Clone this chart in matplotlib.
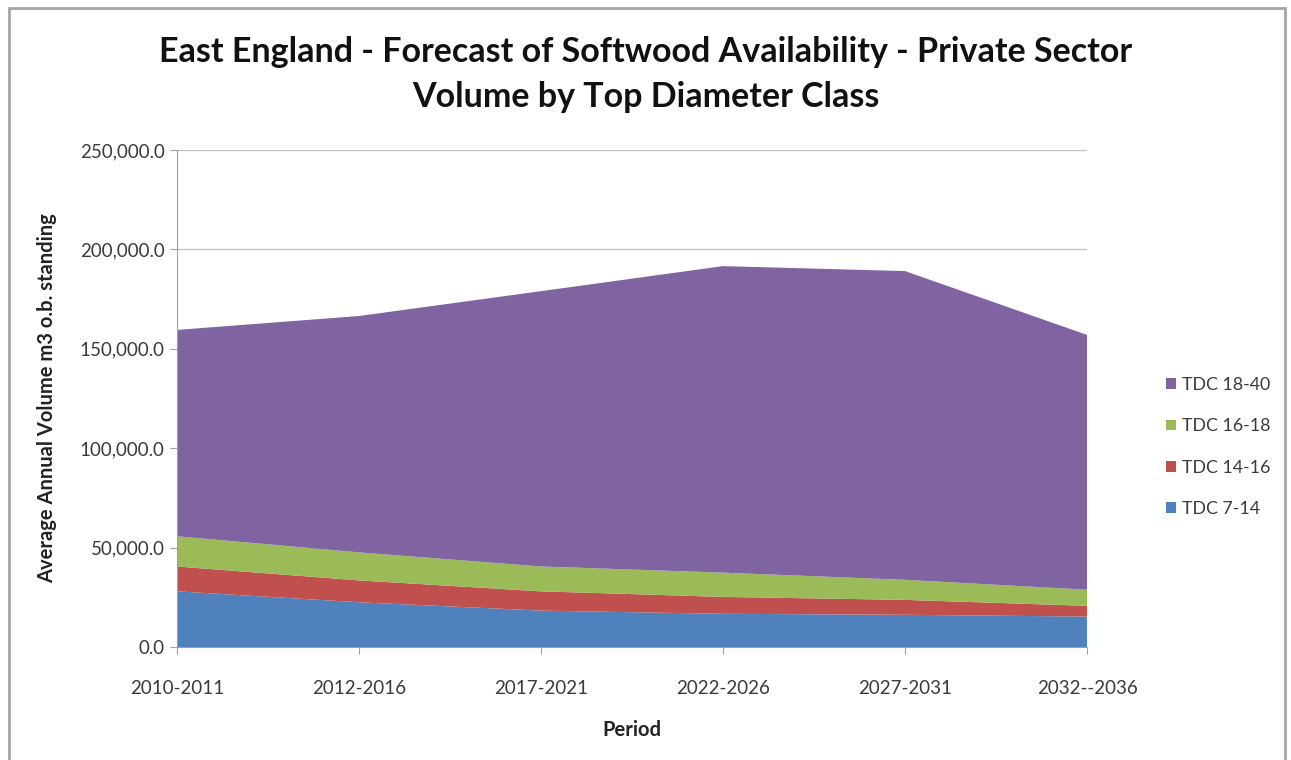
import matplotlib.pyplot as plt
from matplotlib.ticker import FuncFormatter, MultipleLocator
from matplotlib.patches import Rectangle

# average annual volume by period, m3 o.b. standing
periods = ['2010-2011', '2012-2016', '2017-2021', '2022-2026', '2027-2031', '2032--2036']
tdc_7_14 = [28000, 22500, 18300, 16700, 16200, 15300]
tdc_14_16 = [12500, 11000, 9700, 8500, 7500, 5400]
tdc_16_18 = [15200, 14100, 12500, 12200, 10100, 8100]
tdc_18_40 = [103800, 118900, 138500, 154200, 155300, 128200]

labels = ['TDC 7-14', 'TDC 14-16', 'TDC 16-18', 'TDC 18-40']
colors = ['#4F81BD', '#C0504D', '#9BBB59', '#8064A2']

plt.rcParams['font.family'] = ['Lato', 'DejaVu Sans']

fig = plt.figure(figsize=(12.91, 7.6), dpi=100)
# outer chart frame
fig.patches.append(Rectangle((0.007, -0.05), 0.988, 1.04, transform=fig.transFigure,
                             fill=False, edgecolor='#A6A6A6', linewidth=2))

ax = fig.add_axes([0.1371, 0.1487, 0.7049, 0.6539])
x = list(range(len(periods)))
ax.stackplot(x, tdc_7_14, tdc_14_16, tdc_16_18, tdc_18_40,
             labels=labels, colors=colors, linewidth=0)

ax.set_xlim(0, len(periods) - 1)
ax.set_ylim(0, 250000)
ax.yaxis.set_major_locator(MultipleLocator(50000))
ax.yaxis.set_major_formatter(FuncFormatter(lambda v, p: f'{v:,.1f}'))
ax.set_xticks(x)
ax.set_xticklabels(periods)
ax.grid(axis='y', color='#BFBFBF', linewidth=0.9)
ax.set_axisbelow(True)

for s in ['top', 'right']:
    ax.spines[s].set_visible(False)
for s in ['left', 'bottom']:
    ax.spines[s].set_color('#A0A0A0')
ax.tick_params(axis='both', colors='#A0A0A0', labelcolor='#3A3A3A', labelsize=13.5,
               length=5)
ax.tick_params(axis='x', pad=19)
ax.tick_params(axis='y', pad=4)

ax.set_xlabel('Period', fontsize=14.5, fontweight='bold', color='#222222', labelpad=16)
ax.set_ylabel('Average Annual Volume m3 o.b. standing', fontsize=14.5, fontweight='bold',
              color='#222222', labelpad=16)

fig.text(0.5, 0.902, 'East England - Forecast of Softwood Availability - Private Sector\n'
         'Volume by Top Diameter Class', ha='center', va='center',
         fontsize=24.5, fontweight='bold', color='#111111', linespacing=1.5)

handles, hl = ax.get_legend_handles_labels()
leg = fig.legend(handles[::-1], hl[::-1], loc='center left', bbox_to_anchor=(0.891, 0.412),
                 frameon=False, fontsize=12.8, handlelength=0.55, handleheight=0.55,
                 handletextpad=0.35, labelspacing=1.42)
for t in leg.get_texts():
    t.set_color('#3A3A3A')

fig.savefig('out.png', dpi=100)
